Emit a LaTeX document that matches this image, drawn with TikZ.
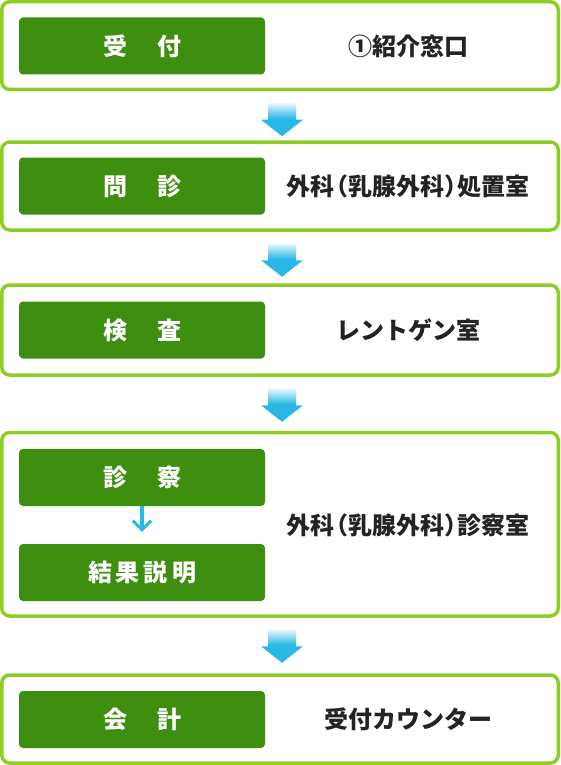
\documentclass[tikz,border=0pt]{standalone}
\usepackage{fontspec}
\setmainfont{Noto Sans CJK JP}
\usetikzlibrary{arrows.meta,calc}
\definecolor{limeline}{RGB}{141,205,36}
\definecolor{labelgreen}{RGB}{62,142,15}
\definecolor{arrowblue}{RGB}{41,184,230}
\definecolor{darktext}{RGB}{35,35,35}
\tikzset{
  stagebox/.style={draw=limeline, line width=3.5pt, rounded corners=8pt, minimum width=556.5pt, inner sep=0pt},
  labelbox/.style={fill=labelgreen, rounded corners=4pt, minimum width=246pt, minimum height=57pt, inner sep=0pt, text=white, font=\fontsize{24}{24}\selectfont\bfseries},
  roomtext/.style={text=darktext, font=\fontsize{24}{24}\selectfont\bfseries, inner sep=0pt},
  bigarrow/.pic={
    \fill[arrowblue] (-14,0) rectangle (14,17);
    \fill[arrowblue] (-21,16.5) -- (21,16.5) -- (0,33) -- cycle;
    \shade[top color=arrowblue!10, bottom color=arrowblue] (-14,0) rectangle (14,15);
  }
}
\begin{document}
\begin{tikzpicture}[x=1pt,y=-1pt]
\useasboundingbox (0,0) rectangle (560,765);
% stage boxes
\node[stagebox, minimum height=87.75pt] (b1) at (280,45.6) {};
\node[stagebox, minimum height=88pt] (b2) at (280,186) {};
\node[stagebox, minimum height=90pt] (b3) at (280,330) {};
\node[stagebox, minimum height=183.5pt] (b4) at (280,524.25) {};
\node[stagebox, minimum height=88pt] (b5) at (280,719) {};
% green labels
\node[labelbox] (g1) at (142,46) {受\kern30pt付};
\node[labelbox] (g2) at (142,186) {問\kern30pt診};
\node[labelbox] (g3) at (142,330) {検\kern30pt査};
\node[labelbox] (g4a) at (142,477.5) {診\kern30pt察};
\node[labelbox] (g4b) at (142,572.5) {結\kern4pt果\kern4pt説\kern4pt明};
\node[labelbox] (g5) at (142,719.5) {会\kern30pt計};
% rooms
\node[roomtext] (r1) at (408,46) {①紹介窓口};
\node[roomtext] (r2) at (408,186) {外科\kern-.45em（乳腺外科）\kern-.45em処置室};
\node[roomtext] (r3) at (408,330) {レントゲン室};
\node[roomtext] (r4) at (408,525) {外科\kern-.45em（乳腺外科）\kern-.45em診察室};
\node[roomtext] (r5) at (408,719) {受付カウンター};
% arrows
\pic at ($(b1.south)+(2,12)$) {bigarrow};
\pic at ($(b2.south)+(2,12)$) {bigarrow};
\pic at ($(b3.south)+(2,12)$) {bigarrow};
\pic at ($(b4.south)+(2,12)$) {bigarrow};
\draw[arrowblue, line width=3.2pt, -{Straight Barb[length=9pt,width=18pt,line width=3pt]}, shorten >=12pt] (g4a.south) -- (g4b.north);
\end{tikzpicture}
\end{document}
